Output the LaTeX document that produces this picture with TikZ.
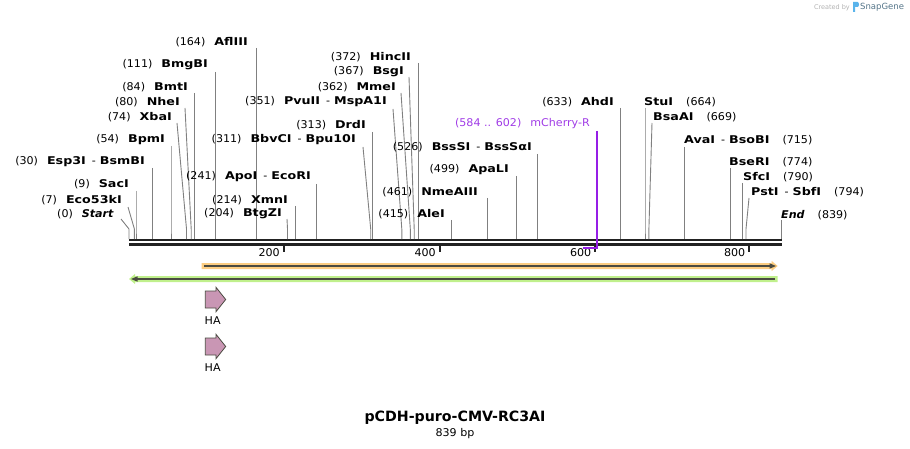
\documentclass[tikz,border=0pt]{standalone}
\usepackage{fontspec}
\setmainfont{DejaVu Sans}[FakeStretch=1.04, BoldFeatures={FakeStretch=1.19}]
\newfontfamily\plainfont{DejaVu Sans}
\definecolor{cutgray}{RGB}{128,128,128}
\definecolor{bbone}{RGB}{34,34,34}
\definecolor{primline}{RGB}{150,30,230}
\definecolor{primtext}{RGB}{160,60,230}
\definecolor{featorange}{RGB}{252,205,130}
\definecolor{featgreen}{RGB}{192,240,140}
\definecolor{featdark}{RGB}{75,75,65}
\definecolor{hapink}{RGB}{201,150,180}
\definecolor{sgblue}{RGB}{90,180,235}
\tikzset{
  lbl/.style={inner sep=0pt, font=\fontsize{10.67}{12}\selectfont, text=black},
  cut/.style={draw=cutgray, line width=0.9pt},
  bb/.style={draw=bbone, line width=2.6pt},
  tick/.style={draw=bbone, line width=2pt},
  hafeat/.style={fill=hapink, draw=featdark, line width=0.8pt, line join=miter},
}
\newcommand{\sitecut}[8]{%
  \node[lbl, anchor=#2] (#1) at (#3,#4) {#5};
  \coordinate (#1t) at (#6,#7);
  \coordinate (#1k) at (#8,229);
  \coordinate (#1b) at (#8,239);
  \draw[cut] (#1t) -- (#1k) -- (#1b);
}
\newcommand{\lnum}[2]{(#1)\hspace{9pt}\textbf{#2}}
\newcommand{\lnumm}[3]{(#1)\hspace{9pt}\textbf{#2}\hspace{6pt}-\hspace{4pt}\textbf{#3}}
\newcommand{\rnum}[2]{\textbf{#2}\hspace{13pt}(#1)}
\newcommand{\rnumm}[3]{\textbf{#2}\hspace{6pt}-\hspace{4pt}\textbf{#3}\hspace{13pt}(#1)}
\begin{document}
\begin{tikzpicture}[x=1pt,y=-1pt]
\useasboundingbox (0,0) rectangle (910,449);
% backbone
\coordinate (bbL1) at (129,240); \coordinate (bbR1) at (781.5,240);
\coordinate (bbL2) at (129,244.3); \coordinate (bbR2) at (781.5,244.3);
\draw[bb] (bbL1) -- (bbR1);
\draw[bb] (bbL2) -- (bbR2);
% ticks
\foreach \tx/\tl in {283.5/200, 439.5/400, 595/600, 749/800}{
  \draw[tick] (\tx,245.5) -- (\tx,252);
  \node[lbl, anchor=east] at (\tx-3.5,252.5) {\tl};
}
% left-labelled sites
\sitecut{s1}{east}{114}{214}{(0)\hspace{9pt}\textbf{\textit{Start}}}{121}{219}{129}
\sitecut{s2}{east}{122}{200}{\lnum{7}{Eco53kI}}{128}{207}{134.4}
\sitecut{s3}{east}{129}{184}{\lnum{9}{SacI}}{136}{191}{136}
\sitecut{s4}{east}{145}{162}{\lnumm{30}{Esp3I}{BsmBI}}{152.3}{168}{152.3}
\sitecut{s5}{east}{165}{140}{\lnum{54}{BpmI}}{171}{146}{171}
\sitecut{s6}{east}{172}{117}{\lnum{74}{XbaI}}{177}{123}{186.5}
\sitecut{s7}{east}{180}{102}{\lnum{80}{NheI}}{185}{108}{191.2}
\sitecut{s8}{east}{188}{87}{\lnum{84}{BmtI}}{194.3}{93}{194.3}
\sitecut{s9}{east}{208}{65}{\lnum{111}{BmgBI}}{215.3}{72}{215.3}
\sitecut{s10}{east}{248}{42.5}{\lnum{164}{AflIII}}{256.4}{48}{256.4}
\sitecut{s11}{east}{282}{214}{\lnum{204}{BtgZI}}{287}{219}{287.5}
\sitecut{s12}{east}{288}{200}{\lnum{214}{XmnI}}{295.3}{206}{295.3}
\sitecut{s13}{east}{311}{177}{\lnumm{241}{ApoI}{EcoRI}}{316.3}{184}{316.3}
\sitecut{s14}{east}{356}{140}{\lnumm{311}{BbvCI}{Bpu10I}}{363}{147}{370.7}
\sitecut{s15}{east}{366}{125}{\lnum{313}{DrdI}}{372.2}{132}{372.2}
\sitecut{s16}{east}{387}{102}{\lnumm{351}{PvuII}{MspA1I}}{393}{109}{401.8}
\sitecut{s17}{east}{396}{87}{\lnum{362}{MmeI}}{401}{93}{410.3}
\sitecut{s18}{east}{404}{72}{\lnum{367}{BsgI}}{409}{77}{414.2}
\sitecut{s19}{east}{411}{57}{\lnum{372}{HincII}}{418.1}{63}{418.1}
\sitecut{s20}{east}{445}{214}{\lnum{415}{AleI}}{451.5}{220}{451.5}
\sitecut{s21}{east}{478}{192}{\lnum{461}{NmeAIII}}{487.2}{198}{487.2}
\sitecut{s22}{east}{509}{170}{\lnum{499}{ApaLI}}{516.8}{176}{516.8}
\sitecut{s23}{east}{532}{147}{\lnumm{526}{BssSI}{BssSαI}}{537.8}{154}{537.8}
\sitecut{s24}{east}{614}{102}{\lnum{633}{AhdI}}{620.9}{108}{620.9}
% right-labelled sites
\sitecut{s25}{west}{644}{102}{\rnum{664}{StuI}}{645}{108}{645}
\sitecut{s26}{west}{653}{117}{\rnum{669}{BsaAI}}{652}{123}{648.9}
\sitecut{s27}{west}{684}{140}{\rnumm{715}{AvaI}{BsoBI}}{684.6}{147}{684.6}
\sitecut{s28}{west}{729}{162}{\rnum{774}{BseRI}}{730.5}{168}{730.5}
\sitecut{s29}{west}{743}{177}{\rnum{790}{SfcI}}{742.9}{183}{742.9}
\sitecut{s30}{west}{751}{192}{\rnumm{794}{PstI}{SbfI}}{749}{198}{746}
\sitecut{s31}{west}{781}{215}{\textbf{\textit{End}}\hspace{13pt}(839)}{781}{220}{781}
% primer mCherry-R
\node[lbl, anchor=east, text=primtext] (pm) at (590,124) {(584 .. 602)\hspace{9pt}mCherry-R};
\coordinate (pmt) at (596.8,131);
\coordinate (pmk) at (596.8,248);
\coordinate (pme) at (582.8,248);
\draw[draw=primline, line width=1.4pt] (pmt) -- (pmk) -- (pme);
% orange feature (forward)
\fill[featorange] (201.7,263) -- (771.7,263) -- (771.7,261) -- (777.7,266) -- (771.7,271) -- (771.7,269) -- (201.7,269) -- cycle;
\draw[draw=featdark, line width=1.4pt] (204,266) -- (771,266);
\fill[featdark] (769.5,263.3) -- (776,266) -- (769.5,268.7) -- cycle;
% green feature (reverse)
\fill[featgreen] (777.7,276) -- (135,276) -- (135,274) -- (129,279) -- (135,284) -- (135,282) -- (777.7,282) -- cycle;
\draw[draw=featdark, line width=1.4pt] (775,279) -- (136,279);
\fill[featdark] (137.5,276.3) -- (131,279) -- (137.5,281.7) -- cycle;
% HA features
\draw[hafeat] (205.3,291) -- (216,291) -- (216,287.3) -- (225.7,299.5) -- (216,311.7) -- (216,308) -- (205.3,308) -- cycle;
\node[lbl, anchor=west] (ha1) at (204.5,321) {HA};
\draw[hafeat] (205.3,338) -- (216,338) -- (216,334.3) -- (225.7,346.5) -- (216,358.7) -- (216,355) -- (205.3,355) -- cycle;
\node[lbl, anchor=west] (ha2) at (204.5,368) {HA};
% title
\node[inner sep=0pt, font=\plainfont\fontsize{14.2}{16}\selectfont\bfseries] (title) at (455,418) {pCDH-puro-CMV-RC3AI};
\node[lbl] (len) at (455,433.5) {839 bp};
% SnapGene mark
\node[inner sep=0pt, anchor=east, font=\plainfont\fontsize{6.5}{7}\selectfont, text=black!30] (cb) at (850,7.5) {Created by};
\fill[sgblue] (853,2) -- (857.5,2) .. controls (859.5,2) and (859.5,7) .. (857.5,7) -- (855,7) -- (855,12) -- (853,12) -- cycle;
\node[inner sep=0pt, anchor=west, font=\plainfont\fontsize{8.5}{9}\selectfont, text=black!40!sgblue!60!gray] (sg) at (860,7.5) {SnapGene};
\end{tikzpicture}
\end{document}
